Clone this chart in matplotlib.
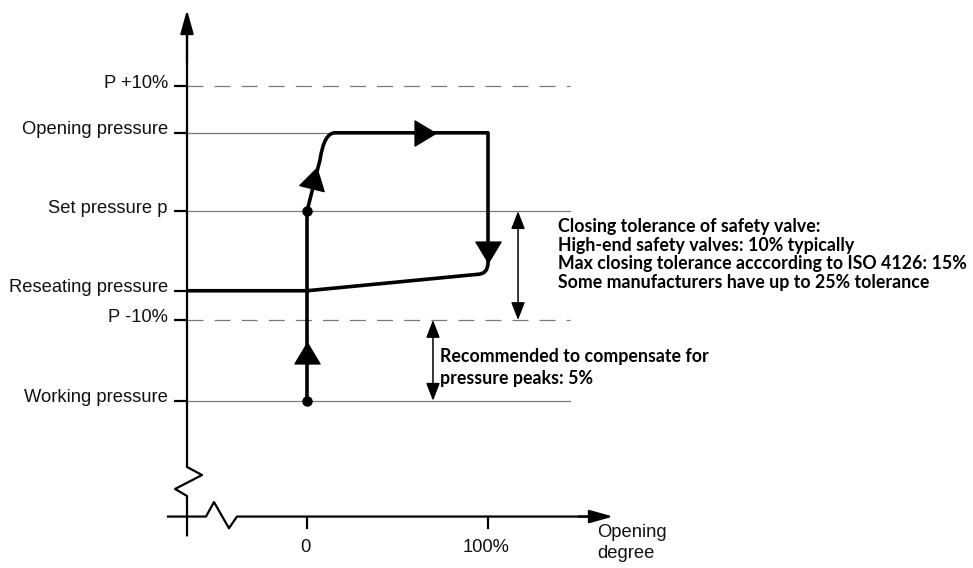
import matplotlib
matplotlib.use("Agg")
import matplotlib.pyplot as plt
from matplotlib.path import Path
from matplotlib.patches import PathPatch
from matplotlib.markers import MarkerStyle
from matplotlib.transforms import Affine2D

plt.rcParams["lines.scale_dashes"] = False

# pressure levels (% of set pressure, schematic)
level_names = ["P +10%", "Opening pressure", "Set pressure p",
               "Reseating pressure", "P -10%", "Working pressure"]
level_values = [110.0, 106.0, 99.3, 92.5, 90.0, 83.1]
level_dashed = [True, False, False, False, True, False]
level_line_end = [145.3, 100.0, 145.3, None, 145.3, 145.3]

# opening degree axis
x_ticks = [0, 100]
x_tick_labels = ["0", "100%"]

# valve cycle: (opening degree %, pressure)
cycle_pts = [(0, 83.1), (0, 99.3), (7.2, 103.7), (9.4, 106.0), (15.5, 106.0),
             (100, 106.0), (100, 94.9), (100, 93.9), (94, 93.9),
             (0, 92.5), (-66.3, 92.5)]
cycle_codes = [Path.MOVETO, Path.LINETO, Path.LINETO, Path.CURVE3, Path.CURVE3,
               Path.LINETO, Path.LINETO, Path.CURVE3, Path.CURVE3,
               Path.LINETO, Path.LINETO]
dot_x = [0, 0]
dot_y = [83.1, 99.3]
# direction arrows: x, y, rotation (deg)
arrow_x = [0, 3.9, 65.0, 100]
arrow_y = [87.2, 102.1, 106.0, 95.8]
arrow_rot = [0, -14, -90, 180]

closing_text = ["Closing tolerance of safety valve:",
                "High-end safety valves: 10% typically",
                "Max closing tolerance acccording to ISO 4126: 15%",
                "Some manufacturers have up to 25% tolerance"]
peak_text = ["Recommended to compensate for", "pressure peaks: 5%"]

# layout (data units)
y_axis_x = -66.3
x_axis_y = 73.2

fig = plt.figure(figsize=(9.73, 5.68), dpi=100)
ax = fig.add_axes([0, 0, 1, 1])
ax.set_xlim(-307 / 1.81, (973 - 307) / 1.81)
ax.set_ylim(110 - (568 - 86) / 11.7, 110 + 86 / 11.7)
ax.axis("off")

sans = "Liberation Sans"
bold = "Lato"

# level lines, ticks and labels
for name, val, dashed, end in zip(level_names, level_values, level_dashed, level_line_end):
    if end is not None:
        ax.plot([y_axis_x, end], [val, val], color="#7a7a7a", lw=0.9,
                linestyle=(0, (11.5, 8)) if dashed else "-", zorder=1)
    ax.plot([y_axis_x - 7.2, y_axis_x], [val, val], color="black", lw=1.6,
            solid_capstyle="butt", zorder=2)
    ax.text(-76.8, val + 0.25, name, ha="right", va="center", fontsize=13.2,
            family=sans, color="#111111")

# axes with break marks
ax.plot([y_axis_x, y_axis_x, -58, -72.9, y_axis_x, y_axis_x],
        [115.5, 77.44, 76.75, 75.56, 74.96, 71.6], color="black", lw=1.6, zorder=2)
ax.plot([-76.8, -55.8, -51.4, -43.1, -38.7, 160],
        [x_axis_y, x_axis_y, 74.44, 72.2, x_axis_y, x_axis_y], color="black", lw=1.6, zorder=2)
ax.annotate("", xy=(y_axis_x, 116.5), xytext=(y_axis_x, 112),
            arrowprops=dict(arrowstyle="-|>,head_length=1.0,head_width=0.28",
                            mutation_scale=14.4, color="black", lw=1.6,
                            shrinkA=0, shrinkB=0))
ax.annotate("", xy=(169.1, x_axis_y), xytext=(150, x_axis_y),
            arrowprops=dict(arrowstyle="-|>,head_length=1.0,head_width=0.28",
                            mutation_scale=14.4, color="black", lw=1.6,
                            shrinkA=0, shrinkB=0))
for t, lab in zip(x_ticks, x_tick_labels):
    ax.plot([t, t], [x_axis_y, x_axis_y - 0.95], color="black", lw=1.6, zorder=2)
    ax.text(t - 1, 70.55, lab, ha="center", va="center", fontsize=13.2,
            family=sans, color="#111111")
ax.text(160.3, 70.95, "Opening\ndegree", ha="left", va="center", fontsize=13.2,
        family=sans, color="#111111", linespacing=1.3)

# valve cycle
ax.add_patch(PathPatch(Path(cycle_pts, cycle_codes), facecolor="none",
                       edgecolor="black", lw=2.6, joinstyle="round", zorder=4))
ax.plot(dot_x, dot_y, "o", color="black", ms=6.5, zorder=5)
tri = Path([(0, 0.833), (-1, -0.833), (1, -0.833), (0, 0.833)],
           [Path.MOVETO, Path.LINETO, Path.LINETO, Path.CLOSEPOLY])
for x, y, r in zip(arrow_x, arrow_y, arrow_rot):
    m = MarkerStyle(tri, transform=Affine2D().rotate_deg(r))
    ax.plot(x, y, marker=m, color="black", ms=18, lw=0, zorder=5)

# tolerance arrows
ax.annotate("", xy=(116.6, level_values[2]), xytext=(116.6, level_values[4]),
            arrowprops=dict(arrowstyle="<|-|>,head_length=0.9,head_width=0.35",
                            mutation_scale=12, color="black", lw=1.1,
                            shrinkA=0, shrinkB=0), zorder=3)
ax.annotate("", xy=(69.6, level_values[4]), xytext=(69.6, level_values[5]),
            arrowprops=dict(arrowstyle="<|-|>,head_length=0.9,head_width=0.35",
                            mutation_scale=12, color="black", lw=1.1,
                            shrinkA=0, shrinkB=0), zorder=3)

for i, line in enumerate(closing_text):
    ax.text(138.7, 98.0 - i * 1.6, line, ha="left", va="center",
            fontsize=12.8, fontweight="bold", family=bold)
for i, line in enumerate(peak_text):
    ax.text(73.5, 86.84 - i * 1.85, line, ha="left", va="center",
            fontsize=12.8, fontweight="bold", family=bold)

fig.savefig("out.png", dpi=100)
